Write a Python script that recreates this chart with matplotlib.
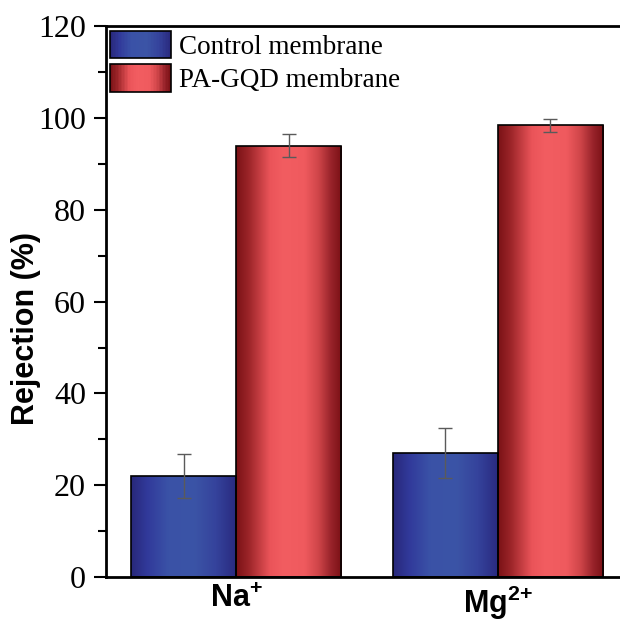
import numpy as np
import matplotlib
matplotlib.use("Agg")
import matplotlib.pyplot as plt
from matplotlib.colors import LinearSegmentedColormap
from matplotlib.patches import Rectangle
from matplotlib.legend_handler import HandlerBase

# data
ions = [r'$\mathrm{Na}^{{+}}$', r'$\mathrm{Mg}^{2{+}}$']
control = [22.0, 27.0]
control_err = [4.7, 5.5]
pagqd = [94.0, 98.5]
pagqd_err = [2.5, 1.4]
labels = ["Control membrane", "PA-GQD membrane"]

plt.rcParams['mathtext.fontset'] = 'custom'
plt.rcParams['mathtext.rm'] = 'Liberation Sans:bold'
plt.rcParams['mathtext.bf'] = 'Liberation Sans:bold'
plt.rcParams['mathtext.it'] = 'Liberation Sans:bold'

# cylinder-like shading for the bars
blue_cmap = LinearSegmentedColormap.from_list("blue", [
    (0.0, "#28287a"), (0.15, "#31399a"), (0.35, "#3a52a7"),
    (0.6, "#3b54a6"), (0.8, "#35439c"), (1.0, "#29297e")])
red_cmap = LinearSegmentedColormap.from_list("red", [
    (0.0, "#7a1216"), (0.12, "#9c2529"), (0.32, "#ea5459"),
    (0.45, "#f25d61"), (0.65, "#ef5a5e"), (0.78, "#cf4549"),
    (0.9, "#98232a"), (1.0, "#7a1015")])


class GradientHandler(HandlerBase):
    def __init__(self, cmap):
        super().__init__()
        self.cmap = cmap

    def create_artists(self, legend, orig_handle, xdescent, ydescent,
                       width, height, fontsize, trans):
        arts = []
        n = 40
        for i in range(n):
            r = Rectangle((-xdescent + width * i / n, -ydescent), width / n + 0.3,
                          height, facecolor=self.cmap((i + 0.5) / n),
                          edgecolor='none', transform=trans)
            arts.append(r)
        arts.append(Rectangle((-xdescent, -ydescent), width, height,
                              facecolor='none', edgecolor='black', lw=1.2,
                              transform=trans))
        return arts


fig = plt.figure(figsize=(6.2, 6.23), dpi=100)
ax = fig.add_axes([0.171, 0.074, 0.829, 0.8835])

x = np.arange(len(ions))
w = 0.402
b1 = ax.bar(x - w / 2, control, w, facecolor='none', edgecolor='black', lw=1.2, zorder=3)
b2 = ax.bar(x + w / 2, pagqd, w, facecolor='none', edgecolor='black', lw=1.2, zorder=3)

grad = np.linspace(0, 1, 256).reshape(1, -1)
for bars, cmap in [(b1, blue_cmap), (b2, red_cmap)]:
    for p in bars:
        x0, h = p.get_x(), p.get_height()
        im = ax.imshow(grad, extent=[x0, x0 + p.get_width(), 0, h], aspect='auto',
                       cmap=cmap, zorder=2, interpolation='bilinear')
        im.set_clip_path(p)

ax.errorbar(x - w / 2, control, yerr=control_err, fmt='none', ecolor='#5a5a5a',
            elinewidth=1, capsize=5, capthick=1, zorder=4)
ax.errorbar(x + w / 2, pagqd, yerr=pagqd_err, fmt='none', ecolor='#5a5a5a',
            elinewidth=1, capsize=5, capthick=1, zorder=4)

ax.set_xlim(-0.498, 1.467)
ax.set_ylim(0, 120)
ax.set_yticks(range(0, 121, 20))
ax.set_yticks(range(10, 121, 20), minor=True)
ax.set_xticks(x)
ax.set_xticklabels(ions, fontsize=22)
for t in ax.get_yticklabels():
    t.set_fontfamily('Liberation Serif')
ax.tick_params(axis='y', which='major', direction='out', length=8.5, width=1.5,
               labelsize=23, pad=6)
ax.tick_params(axis='y', which='minor', direction='out', length=5.8, width=1.5)
ax.tick_params(axis='x', length=0, pad=5)

for s in ['left', 'top', 'bottom']:
    ax.spines[s].set_linewidth(2)
ax.spines['right'].set_visible(False)

ax.set_ylabel("Rejection (%)", fontsize=22, fontweight='bold', family='Liberation Sans')
ax.yaxis.set_label_coords(-0.127, 0.452)

ax.legend([b1, b2], labels, loc='upper left', frameon=False,
          handler_map={b1: GradientHandler(blue_cmap), b2: GradientHandler(red_cmap)},
          prop={'family': 'Liberation Serif', 'size': 19.5},
          handlelength=2.25, handleheight=1.2, labelspacing=0.16,
          handletextpad=0.3, borderaxespad=0.1, borderpad=0.05)

plt.savefig("out.png", dpi=100)
